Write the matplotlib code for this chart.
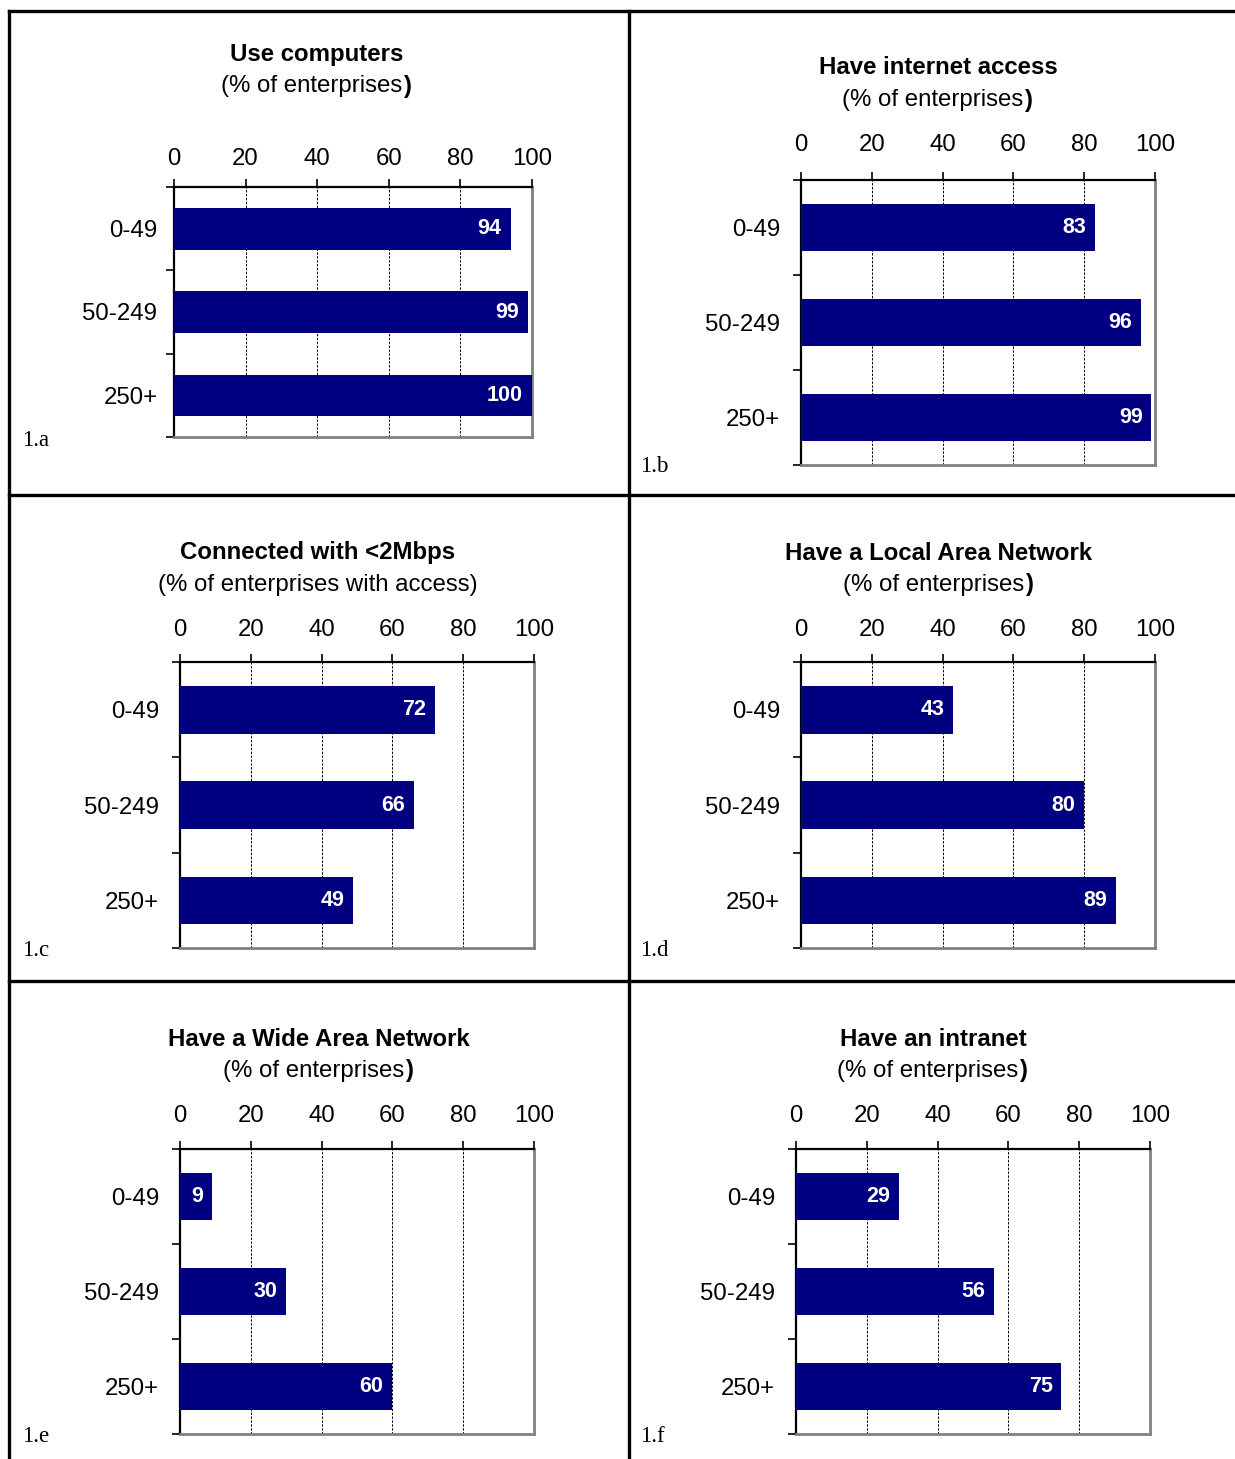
import matplotlib
matplotlib.use("Agg")
import matplotlib.pyplot as plt
from matplotlib.lines import Line2D

W, H = 1235, 1459

sizes = ["0-49", "50-249", "250+"]
titles = ["Use computers", "Have internet access", "Connected with <2Mbps",
          "Have a Local Area Network", "Have a Wide Area Network", "Have an intranet"]
subtitles = ["(% of enterprises", "(% of enterprises", "(% of enterprises with access)",
             "(% of enterprises", "(% of enterprises", "(% of enterprises"]
bold_paren = [True, True, False, True, True, True]
panel_ids = ["1.a", "1.b", "1.c", "1.d", "1.e", "1.f"]
use_computers = [94, 99, 100]
internet_access = [83, 96, 99]
below_2mbps = [72, 66, 49]
lan = [43, 80, 89]
wan = [9, 30, 60]
intranet = [29, 56, 75]
series = [use_computers, internet_access, below_2mbps, lan, wan, intranet]
xticks = [0, 20, 40, 60, 80, 100]

# pixel layout: x0, x100, y_top, y_bottom, title_y, sub_y, label_xy
layout = [
    (174, 532, 187, 437, 54, 86, (22, 441)),
    (801, 1155, 180, 465, 68, 100, (640, 467)),
    (180, 534, 662, 948, 553, 585, (22, 951)),
    (801, 1155, 662, 948, 553, 585, (640, 951)),
    (180, 534, 1149, 1434, 1039, 1071, (22, 1437)),
    (796, 1150, 1149, 1434, 1039, 1071, (640, 1437)),
]
title_x = [317, 938, 318, 939, 319, 933]
xpad = [6, 11, 9, 9, 9.6, 9.6]
ypad = [12, 15, 15, 15, 15, 15]

FS = 17.3
plt.rcParams['font.family'] = ['Liberation Sans', 'DejaVu Sans']
fig = plt.figure(figsize=(W / 100, H / 100), dpi=100)
fig.patch.set_facecolor("white")

def fx(px):
    return px / W

def fy(py):
    return 1 - py / H

# frame lines
for (x1, y1, x2, y2) in [(9, 11, 1235, 11), (9, 495, 1235, 495), (9, 981, 1235, 981),
                         (9, 11, 9, 1459), (629, 11, 629, 1459)]:
    fig.add_artist(Line2D([fx(x1), fx(x2)], [fy(y1), fy(y2)], color="black", lw=2.4,
                          transform=fig.transFigure))

for i in range(6):
    x0, x1, yt, yb, ty, sy, (lx, ly) = layout[i]
    ax = fig.add_axes([fx(x0), fy(yb), fx(x1 - x0), (yb - yt) / H])
    vals = series[i]
    pos = list(range(len(sizes)))
    ax.barh(pos, vals, height=0.5, color="#000080", zorder=3)
    ax.set_xlim(0, 100)
    ax.set_ylim(2.5, -0.5)
    ax.set_xticks(xticks)
    ax.xaxis.tick_top()
    ax.tick_params(axis="x", direction="out", length=6, width=1.2, labelsize=FS, pad=xpad[i])
    ax.set_yticks(pos)
    ax.set_yticklabels(sizes)
    ax.set_yticks([-0.5, 0.5, 1.5, 2.5], minor=True)
    ax.tick_params(axis="y", which="major", length=0, labelsize=FS, pad=ypad[i])
    ax.tick_params(axis="y", which="minor", direction="out", length=6, width=1.2)
    for x in xticks[1:-1]:
        ax.axvline(x, color="black", lw=0.7, ls=(0, (2.5, 1.5)), zorder=1)
    ax.spines["top"].set_linewidth(1.6)
    ax.spines["left"].set_linewidth(1.6)
    ax.spines["right"].set_color("#808080")
    ax.spines["bottom"].set_color("#808080")
    ax.spines["right"].set_linewidth(2)
    ax.spines["bottom"].set_linewidth(2)
    for p, v in zip(pos, vals):
        ax.text(v - 2.5, p, str(v), color="white", fontweight="bold", fontsize=15.5,
                ha="right", va="center", zorder=4)

    cx = fx(title_x[i])
    fig.text(cx, fy(ty), titles[i], ha="center", va="center", fontsize=FS, fontweight="bold")
    if bold_paren[i]:
        t = fig.text(cx, fy(sy), subtitles[i], ha="center", va="center", fontsize=FS)
        fig.canvas.draw()
        bb = t.get_window_extent()
        shift = 5 / W
        t.set_position((cx - shift, fy(sy)))
        fig.text(bb.x1 / W - shift, fy(sy), ")", ha="left", va="center", fontsize=FS,
                 fontweight="bold")
    else:
        fig.text(cx, fy(sy), subtitles[i], ha="center", va="center", fontsize=FS)
    fig.text(fx(lx), fy(ly), panel_ids[i], ha="left", va="center", fontsize=16.5,
             family="Liberation Serif")

fig.savefig("out.png", dpi=100)
